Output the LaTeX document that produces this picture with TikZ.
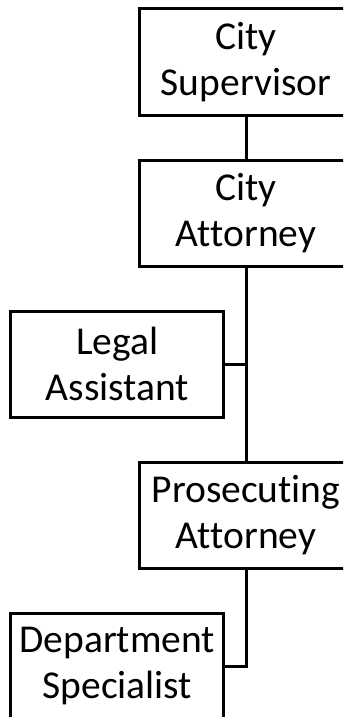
\documentclass[tikz,border=0pt]{standalone}
\usepackage{fontspec}
\setmainfont{Carlito}[Ligatures=NoCommon]
\begin{document}
\begin{tikzpicture}[x=1pt,y=-1pt,
  orgbox/.style={draw=black, line width=3pt, minimum width=213pt, minimum height=106pt,
    inner sep=0pt, align=center, font=\fontsize{39.5}{46}\selectfont},
  link/.style={draw=black, line width=3pt}]
% page frame; boxes on the right and bottom run past it and are cut off
\useasboundingbox (0,0) rectangle (343,717);
\clip (0,0) rectangle (343,717);
\fill[white] (0,0) rectangle (343,717);

\node[orgbox] (sup)   at (246,62)    {City\\Supervisor};
\node[orgbox] (att)   at (246,213.3) {City\\Attorney};
\node[orgbox] (legal) at (117.3,364) {Legal\\Assistant};
\node[orgbox] (pros)  at (246,515)   {Prosecuting\\Attorney};
\node[orgbox] (dept)  at (117.3,666) {Department\\Specialist};

\coordinate (legaljoin) at (246,364);
\coordinate (deptjoin)  at (246,666);

\draw[link] (sup.south) -- (att.north);
\draw[link] (att.south) -- (pros.north);
\draw[link] (legal.east) -- (legaljoin);
\draw[link] (pros.south) -- (deptjoin) -- (dept.east);
\end{tikzpicture}
\end{document}
